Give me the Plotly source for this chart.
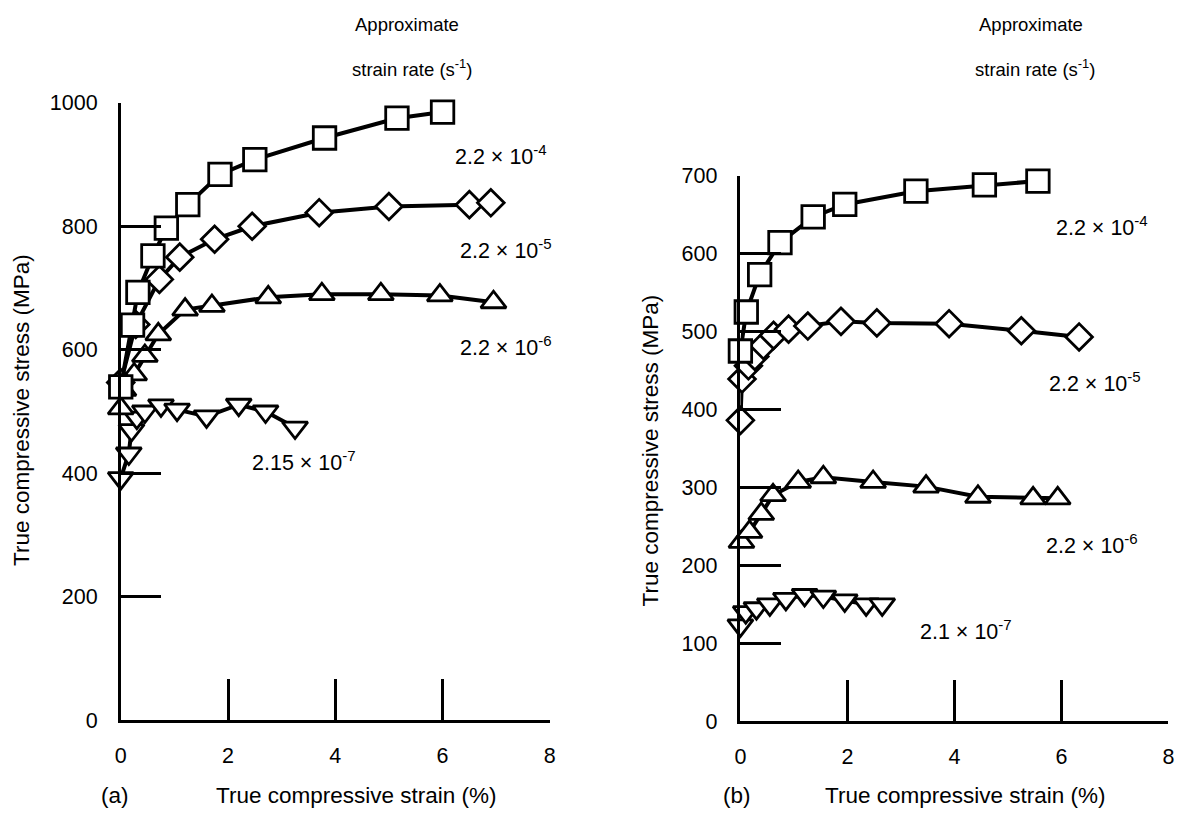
import plotly.graph_objects as go

W, H = 1181, 817

# ---------------- Panel (a) data ----------------
a_sq_strain = [0.0, 0.22, 0.32, 0.6, 0.85, 1.25, 1.85, 2.5, 3.8, 5.15, 6.0]
a_sq_stress = [540, 640, 693, 752, 797, 835, 884, 908, 943, 975, 985]

a_di_strain = [0.0, 0.28, 0.72, 1.1, 1.75, 2.45, 3.7, 5.0, 6.5, 6.9]
a_di_stress = [547, 641, 714, 750, 779, 800, 822, 832, 835, 838]

a_tu_strain = [0.0, 0.05, 0.25, 0.45, 0.7, 1.2, 1.7, 2.75, 3.75, 4.85, 5.95, 6.95]
a_tu_stress = [505, 535, 560, 590, 625, 665, 671, 685, 690, 690, 688, 677]

a_td_strain = [0.0, 0.15, 0.2, 0.3, 0.45, 0.75, 1.05, 1.6, 2.2, 2.7, 3.25]
a_td_stress = [392, 432, 470, 490, 500, 510, 503, 492, 511, 500, 474]

# ---------------- Panel (b) data ----------------
b_sq_strain = [0.0, 0.11, 0.36, 0.74, 1.36, 1.95, 3.28, 4.56, 5.56]
b_sq_stress = [475, 525, 573, 614, 647, 663, 680, 688, 693]

b_di_strain = [0.0, 0.03, 0.15, 0.27, 0.43, 0.62, 0.9, 1.26, 1.88, 2.55, 3.9, 5.25, 6.33]
b_di_stress = [386, 439, 456, 468, 482, 495, 503, 507, 513, 511, 510, 501, 493]

b_tu_strain = [0.02, 0.17, 0.39, 0.61, 1.08, 1.55, 2.48, 3.47, 4.44, 5.47, 5.93]
b_tu_stress = [230, 243, 266, 290, 307, 313, 307, 301, 288, 286, 286]

b_td_strain = [0.0, 0.1, 0.3, 0.55, 0.85, 1.2, 1.55, 1.95, 2.35, 2.65]
b_td_stress = [123, 140, 145, 150, 157, 162, 160, 155, 150, 150]

x_ticks = [0, 2, 4, 6, 8]
a_y_ticks = [0, 200, 400, 600, 800, 1000]
b_y_ticks = [0, 100, 200, 300, 400, 500, 600, 700]

a_labels = ["2.2 × 10<sup>-4</sup>", "2.2 × 10<sup>-5</sup>", "2.2 × 10<sup>-6</sup>", "2.15 × 10<sup>-7</sup>"]
b_labels = ["2.2 × 10<sup>-4</sup>", "2.2 × 10<sup>-5</sup>", "2.2 × 10<sup>-6</sup>", "2.1 × 10<sup>-7</sup>"]

FONT = "Liberation Sans, Arial, Helvetica, sans-serif"

# mapping from target picture pixels to figure pixels (compensates the
# slight shrink observed in the photographed page)
SX, OX = 0.992, 3.0
SY, OY = 0.973, 11.0

def fx(xt):
    return ((xt - OX) / SX) / W

def fy(yt):
    return 1 - ((yt - OY) / SY) / H

fig = go.Figure()

def add_series(x, y, symbol, size, xa, ya):
    fig.add_trace(go.Scatter(
        x=x, y=y, mode="lines+markers", xaxis=xa, yaxis=ya,
        line=dict(color="black", width=4),
        marker=dict(symbol=symbol, size=size, color="white",
                    line=dict(color="black", width=2.8)),
        cliponaxis=False, showlegend=False, hoverinfo="skip"))

add_series(a_td_strain, a_td_stress, "triangle-down", 22, "x", "y")
add_series(a_tu_strain, a_tu_stress, "triangle-up", 22, "x", "y")
add_series(a_di_strain, a_di_stress, "diamond", 20.5, "x", "y")
add_series(a_sq_strain, a_sq_stress, "square", 22.5, "x", "y")

add_series(b_td_strain, b_td_stress, "triangle-down", 22, "x2", "y2")
add_series(b_tu_strain, b_tu_stress, "triangle-up", 22, "x2", "y2")
add_series(b_di_strain, b_di_stress, "diamond", 20.5, "x2", "y2")
add_series(b_sq_strain, b_sq_stress, "square", 22.5, "x2", "y2")

def xaxis_style(dom, anchor):
    return dict(domain=dom, range=[0, 8], tickvals=x_ticks, ticks="inside",
                ticklen=41, tickwidth=2.5, tickcolor="black", showline=True,
                linecolor="black", linewidth=3, showgrid=False, zeroline=False,
                tickfont=dict(family=FONT, size=21.5, color="black"),
                ticklabelstandoff=14, anchor=anchor, fixedrange=True)

def yaxis_style(dom, rng, ticks, anchor, standoff):
    return dict(domain=dom, range=rng, tickvals=ticks, ticks="inside",
                ticklen=41, tickwidth=2.5, tickcolor="black", showline=True,
                linecolor="black", linewidth=2.5, showgrid=False, zeroline=False,
                tickfont=dict(family=FONT, size=21.5, color="black"),
                ticklabelstandoff=standoff, anchor=anchor, fixedrange=True)

annots = []
def text(xt, yt, s, size=21.5, angle=0):
    annots.append(dict(x=fx(xt), y=fy(yt), xref="paper", yref="paper", text=s,
                       showarrow=False, xanchor="center", yanchor="middle",
                       textangle=angle,
                       font=dict(family=FONT, size=size, color="black")))

# header texts
text(405, 25, "Approximate", size=18.5)
text(410, 68, "strain rate (s<sup>-1</sup>)", size=18.5)
text(1030, 25, "Approximate", size=18.5)
text(1035, 68, "strain rate (s<sup>-1</sup>)", size=18.5)

# axis titles
text(18, 411, "True compressive stress (MPa)", size=22.5, angle=-90)
text(649, 452, "True compressive stress (MPa)", size=22.5, angle=-90)
text(112, 797, "(a)", size=22.5)
text(354, 797, "True compressive strain (%)", size=22.5)
text(736, 797, "(b)", size=22.5)
text(964, 797, "True compressive strain (%)", size=22.5)

# curve labels
for (xt, yt), s in zip([(499, 155), (504, 250), (504, 347), (302, 462)], a_labels):
    text(xt, yt, s)
for (xt, yt), s in zip([(1101, 227), (1094, 383), (1091, 545), (965, 632)], b_labels):
    text(xt, yt, s)

fig.update_layout(
    width=W, height=H,
    margin=dict(l=0, r=0, t=0, b=0),
    paper_bgcolor="white", plot_bgcolor="white",
    xaxis=xaxis_style([fx(118), fx(548)], "y"),
    yaxis=yaxis_style([fy(722), fy(103)], [0, 1000], a_y_ticks, "x", 16),
    xaxis2=xaxis_style([fx(739), fx(1168)], "y2"),
    yaxis2=yaxis_style([fy(723), fy(176)], [0, 700], b_y_ticks, "x2", 16),
    annotations=annots,
    showlegend=False,
)

fig.write_html("out.html", config={"displayModeBar": False})
